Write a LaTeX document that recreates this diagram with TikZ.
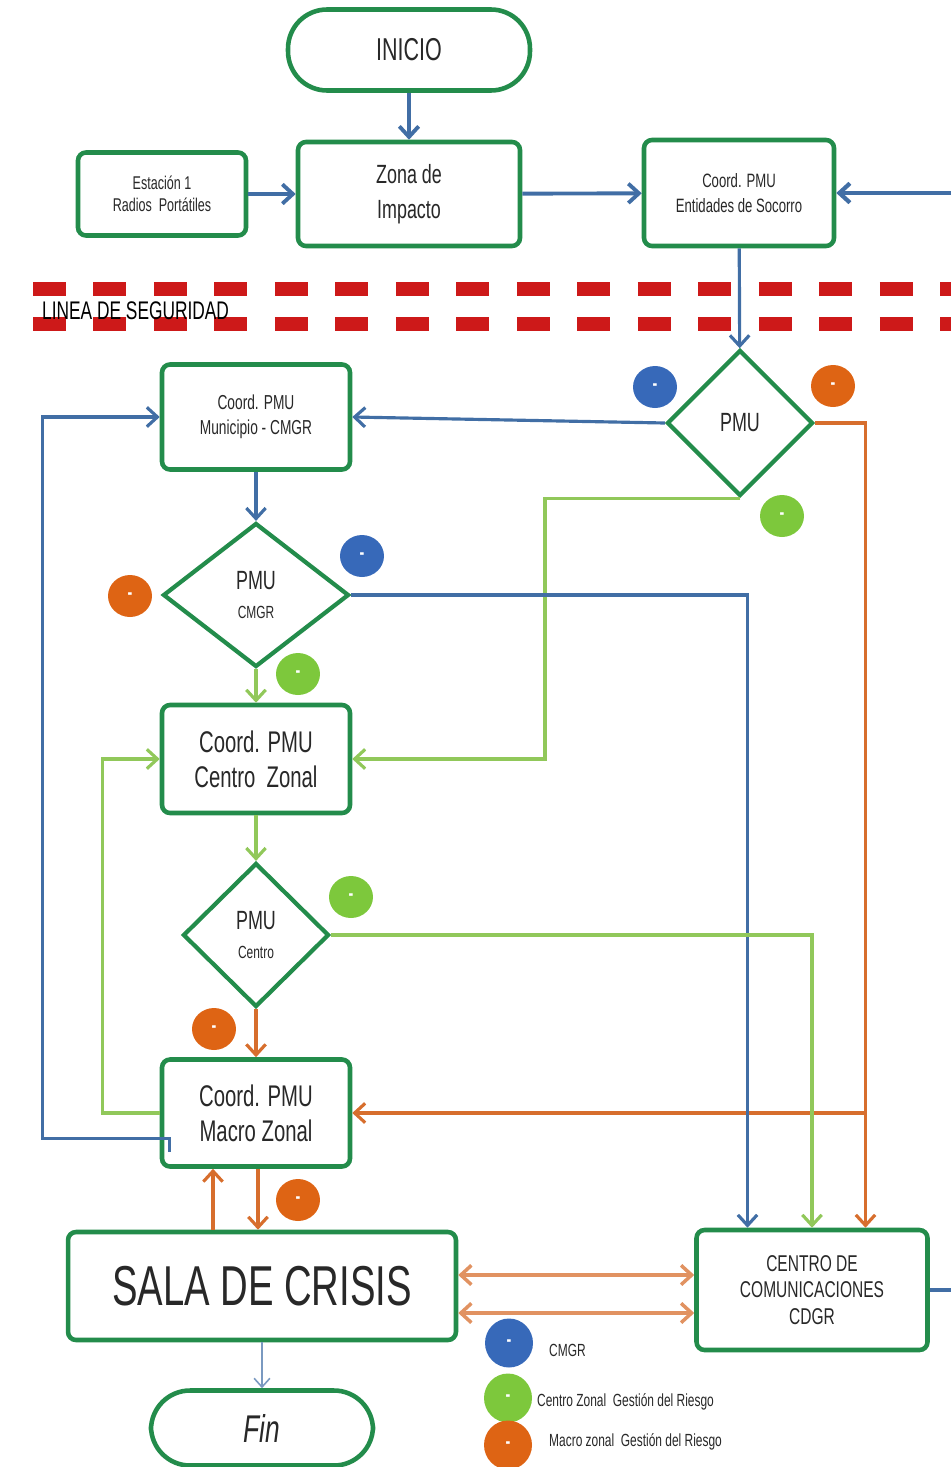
\documentclass[tikz,border=0pt]{standalone}
\usepackage{fontspec}
\setmainfont{Liberation Sans}[FakeStretch=0.68]
\usetikzlibrary{arrows.meta,shapes.geometric,calc}

\definecolor{boxgreen}{RGB}{35,140,75}
\definecolor{lnblue}{RGB}{65,110,165}
\definecolor{lnorange}{RGB}{215,110,45}
\definecolor{lngreen}{RGB}{145,200,90}
\definecolor{dotblue}{RGB}{55,105,185}
\definecolor{dotorange}{RGB}{222,100,20}
\definecolor{dotgreen}{RGB}{125,200,60}
\definecolor{dashred}{RGB}{205,25,25}
\definecolor{txtgray}{RGB}{40,40,40}

\tikzset{
  box/.style={draw=boxgreen,line width=2.6pt,rounded corners=0.16cm,fill=white,align=center,text=txtgray,inner sep=2pt},
  term/.style={box,rounded corners=0.78cm},
  dec/.style={diamond,draw=boxgreen,line width=2.4pt,fill=white,align=center,text=txtgray,inner sep=0pt},
  tip/.tip={Straight Barb[length=6pt,width=11pt]},
  blueln/.style={draw=lnblue,line width=1.8pt,-tip},
  orangeln/.style={draw=lnorange,line width=1.8pt,-tip},
  greenln/.style={draw=lngreen,line width=1.8pt,-tip},
  dblln/.style={draw=lnorange!75,line width=2pt,tip-tip},
  thinln/.style={draw=lnblue!70,line width=0.9pt,-{Straight Barb[length=5pt,width=9pt]}},
  redash/.style={draw=dashred,line width=8pt,dash pattern=on 0.66cm off 0.55cm},
  dot/.style={ellipse,minimum width=0.88cm,minimum height=0.84cm,inner sep=0pt,text=white,font=\bfseries\large},
  bdot/.style={dot,fill=dotblue},
  odot/.style={dot,fill=dotorange},
  gdot/.style={dot,fill=dotgreen},
  legend/.style={anchor=west,text=txtgray,font=\fontsize{10}{12}\selectfont}
}

\begin{document}
\begin{tikzpicture}[x=0.02cm,y=-0.02cm]
\useasboundingbox (0,0) rectangle (951,1467);

% linea de seguridad
\draw[redash] (33,289) -- (951,289);
\draw[redash] (33,324) -- (951,324);
\node[anchor=west,text=black,font=\fontsize{14.5}{16}\selectfont] (linea) at (36,311) {LINEA DE SEGURIDAD};

% nodos
\node[term,minimum width=4.84cm,minimum height=1.62cm,font=\fontsize{18}{20}\selectfont] (inicio) at (409,50) {INICIO};
\node[box,minimum width=4.44cm,minimum height=2.08cm,font=\fontsize{15}{20}\selectfont] (zona) at (409,194) {Zona de\\Impacto};
\node[box,minimum width=3.36cm,minimum height=1.66cm,font=\fontsize{10.5}{12.5}\selectfont] (estacion) at (162,194) {Estación 1\\Radios\ \ Portátiles};
\node[box,minimum width=3.8cm,minimum height=2.12cm,font=\fontsize{11}{14}\selectfont] (socorro) at (739,193) {Coord. PMU\\Entidades de Socorro};
\node[dec,minimum width=2.92cm,minimum height=2.92cm,font=\fontsize{15}{17}\selectfont] (pmu) at (740,423) {PMU};
\node[box,minimum width=3.76cm,minimum height=2.1cm,font=\fontsize{11.5}{14}\selectfont] (muni) at (256,417) {Coord. PMU\\Municipio - CMGR};
\node[dec,minimum width=3.72cm,minimum height=2.88cm,font=\fontsize{15}{17}\selectfont] (cmgr) at (256,595) {PMU\\{\fontsize{10}{12}\selectfont CMGR}};
\node[box,minimum width=3.76cm,minimum height=2.16cm,font=\fontsize{17}{20}\selectfont] (czonal) at (256,759) {Coord. PMU\\Centro\ \ Zonal};
\node[dec,minimum width=2.92cm,minimum height=2.88cm,font=\fontsize{15}{17}\selectfont] (pmuc) at (256,935) {PMU\\{\fontsize{10}{12}\selectfont Centro}};
\node[box,minimum width=3.76cm,minimum height=2.14cm,font=\fontsize{17}{20}\selectfont] (mzonal) at (256,1113) {Coord. PMU\\Macro Zonal};
\node[box,minimum width=7.76cm,minimum height=2.16cm,font=\fontsize{32}{36}\selectfont] (sala) at (262,1286) {SALA DE CRISIS};
\node[box,minimum width=4.62cm,minimum height=2.4cm,font=\fontsize{13}{15}\selectfont] (cdgr) at (812,1290) {CENTRO DE\\COMUNICACIONES\\CDGR};
\node[term,minimum width=4.44cm,minimum height=1.5cm,font=\fontsize{22}{24}\selectfont\itshape] (fin) at (262,1428) {Fin};

% conectores
\coordinate (redge) at (951,193);
\coordinate (redge2) at (951,1290);
\coordinate (ox) at ([xshift=1.07cm]cdgr.north);
\coordinate (bx) at ([xshift=-1.29cm]cdgr.north);
\coordinate (su) at ([xshift=-0.98cm]sala.north);
\coordinate (sd) at ([xshift=-0.08cm]sala.north);
\coordinate (mb) at ([shift={(10,-17)}]mzonal.south west);
\coordinate (s1) at ([yshift=0.22cm]sala.east);
\coordinate (s2) at ([yshift=-0.54cm]sala.east);

\draw[blueln,line width=2.2pt] (inicio) -- (zona);
\draw[blueln,line width=2.2pt] (estacion) -- (zona);
\draw[blueln,line width=2.2pt] (zona) -- (socorro);
\draw[blueln,line width=2.4pt] (redge) -- (socorro);
\draw[blueln] (socorro) -- (pmu);
\draw[blueln] (pmu.west) -- (muni.east);
\draw[orangeln] (pmu.east) -| (ox);
\draw[orangeln] (ox |- mzonal.east) -- (mzonal.east);
\draw[greenln] (pmu.south) -- ++(-195,0) |- (czonal.east);
\draw[blueln] (muni) -- (cmgr);
\draw[blueln] (cmgr.east) -| (bx);
\draw[greenln] (cmgr) -- (czonal);
\draw[greenln] (czonal) -- (pmuc);
\draw[greenln] (pmuc.east) -| (cdgr.north);
\draw[orangeln] (pmuc) -- (mzonal);
\draw[greenln] (mzonal.west) -- ++(-57,0) |- (czonal.west);
\draw[blueln] (mb) |- ++(-127,-13) |- (muni.west);
\draw[orangeln] (su) -- (su |- mzonal.south);
\draw[orangeln] (sd |- mzonal.south) -- (sd);
\draw[dblln] (s1) -- (s1 -| cdgr.west);
\draw[dblln] (s2) -- (s2 -| cdgr.west);
\draw[blueln,-] (cdgr.east) -- (redge2);
\draw[thinln] (sala.south) -- (fin.north);

% circulos
\node[bdot] (b1) at (655,387) {-};
\node[odot] (o1) at (833,386) {-};
\node[gdot] (g1) at (782,516) {-};
\node[bdot] (b2) at (362,556) {-};
\node[odot] (o2) at (130,596) {-};
\node[gdot] (g2) at (298,674) {-};
\node[gdot] (g3) at (351,897) {-};
\node[odot] (o3) at (214,1029) {-};
\node[odot] (o4) at (298,1200) {-};

% leyenda
\node[bdot,minimum width=0.96cm,minimum height=0.98cm] (lb) at (509,1343) {-};
\node[gdot,minimum width=0.96cm,minimum height=0.98cm] (lg) at (508,1398) {-};
\node[odot,minimum width=0.96cm,minimum height=0.98cm] (lo) at (508,1445) {-};
\node[legend] (lbt) at (543,1350) {CMGR};
\node[legend] (lgt) at (531,1402) {Centro Zonal\ \ Gestión del Riesgo};
\node[legend] (lot) at (543,1442) {Macro zonal\ \ Gestión del Riesgo};
\end{tikzpicture}
\end{document}
